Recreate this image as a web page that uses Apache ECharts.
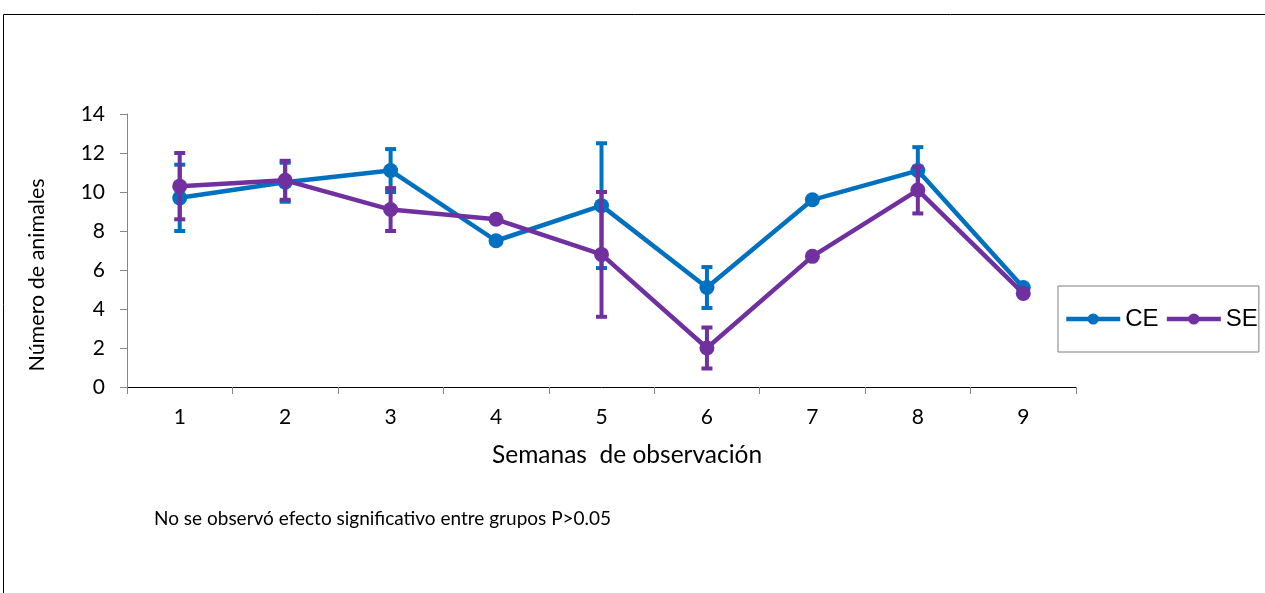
<!DOCTYPE html>
<html>
<head>
<meta charset="utf-8">
<script src="https://cdn.jsdelivr.net/npm/echarts@6/dist/echarts.min.js"></script>
<style>html,body{margin:0;padding:0;background:#fff;}#c{width:1265px;height:593px;}</style>
</head>
<body>
<div id="c"></div>
<script>
const weeks = ['1','2','3','4','5','6','7','8','9'];
const ceMean = [9.7, 10.5, 11.1, 7.5, 9.3, 5.1, 9.6, 11.1, 5.1];
const ceErr  = [1.7, 1.0, 1.1, 0, 3.2, 1.05, 0, 1.2, 0];
const seMean = [10.3, 10.6, 9.1, 8.6, 6.8, 2.0, 6.7, 10.1, 4.8];
const seErr  = [1.7, 1.0, 1.1, 0, 3.2, 1.05, 0, 1.2, 0];
const yTicks = [0, 2, 4, 6, 8, 10, 12, 14];
const seriesNames = ['CE', 'SE'];
const xTitle = 'Semanas  de observación';
const yTitle = 'Número de animales';
const note = 'No se observó efecto significativo entre grupos P>0.05';

const BLUE = '#0070C0', PURPLE = '#7030A0';
const FONT = 'Lato';

function errData(mean, err) {
  return mean.map((m, i) => [i, m - err[i], m + err[i], err[i]]);
}
function errRender(color) {
  return function (params, api) {
    if (api.value(3) <= 0) return null;
    const lo = api.coord([api.value(0), api.value(1)]);
    const hi = api.coord([api.value(0), api.value(2)]);
    const hw = 5.5;
    const st = { stroke: color, lineWidth: 4 };
    return {
      type: 'group',
      children: [
        { type: 'line', shape: { x1: lo[0], y1: lo[1], x2: hi[0], y2: hi[1] }, style: st },
        { type: 'line', shape: { x1: lo[0] - hw, y1: lo[1], x2: lo[0] + hw, y2: lo[1] }, style: st },
        { type: 'line', shape: { x1: hi[0] - hw, y1: hi[1], x2: hi[0] + hw, y2: hi[1] }, style: st }
      ]
    };
  };
}

const chart = echarts.init(document.getElementById('c'), null, { renderer: 'canvas' });
chart.setOption({
  animation: false,
  backgroundColor: '#fff',
  textStyle: { fontFamily: FONT },
  grid: { left: 127, right: 189, top: 114, bottom: 206, containLabel: false },
  xAxis: {
    type: 'category',
    data: weeks,
    boundaryGap: true,
    axisLine: { lineStyle: { color: '#000', width: 1 } },
    axisTick: { show: true, length: 7, interval: 0, lineStyle: { color: '#868686' } },
    axisLabel: { color: '#000', fontSize: 21, fontFamily: FONT, margin: 20 }
  },
  yAxis: {
    type: 'value',
    min: yTicks[0],
    max: yTicks[yTicks.length - 1],
    interval: 2,
    axisLine: { show: true, lineStyle: { color: '#868686', width: 1 } },
    axisTick: { show: true, length: 7, lineStyle: { color: '#868686' } },
    splitLine: { show: false },
    axisLabel: { color: '#000', fontSize: 21, fontFamily: FONT, margin: 22 }
  },
  legend: {
    data: seriesNames,
    left: 1058,
    top: 286,
    orient: 'horizontal',
    itemWidth: 54,
    itemHeight: 14,
    itemGap: 6,
    padding: [21, 1, 21, 6],
    borderColor: '#7f7f7f',
    borderWidth: 1,
    lineStyle: { width: 4.5 },
    textStyle: { fontFamily: 'Liberation Sans', fontSize: 24, color: '#000' }
  },
  graphic: [
    { type: 'rect', shape: { x: 3.5, y: 14.5, width: 1400, height: 800 }, style: { fill: 'none', stroke: '#000', lineWidth: 1 }, silent: true },
    { type: 'text', left: 492, top: 443, style: { text: xTitle, font: '24.5px ' + FONT, fill: '#000' } },
    { type: 'text', x: 37, y: 275, rotation: Math.PI / 2, style: { text: yTitle, font: '21.5px ' + FONT, fill: '#000', align: 'center', verticalAlign: 'middle' } },
    { type: 'text', left: 154, top: 509, style: { text: note, font: '19px ' + FONT, fill: '#000' } }
  ],
  series: [
    { type: 'custom', name: 'CE-err', renderItem: errRender(BLUE), data: errData(ceMean, ceErr), z: 1, silent: true },
    { type: 'line', name: 'CE', data: ceMean, color: BLUE, symbol: 'circle', symbolSize: 15,
      lineStyle: { width: 4.5, color: BLUE }, itemStyle: { color: BLUE }, z: 2 },
    { type: 'custom', name: 'SE-err', renderItem: errRender(PURPLE), data: errData(seMean, seErr), z: 3, silent: true },
    { type: 'line', name: 'SE', data: seMean, color: PURPLE, symbol: 'circle', symbolSize: 15,
      lineStyle: { width: 4.5, color: PURPLE }, itemStyle: { color: PURPLE }, z: 4 }
  ]
});
</script>
</body>
</html>
